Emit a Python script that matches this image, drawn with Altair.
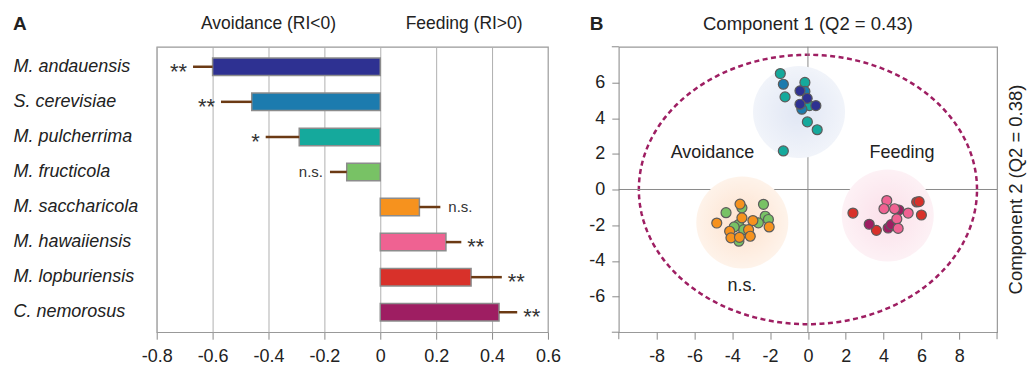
import altair as alt
import numpy as np
import pandas as pd

FONT = "Liberation Sans"

# ---------------- Panel A data ----------------
species = ["M. andauensis", "S. cerevisiae", "M. pulcherrima", "M. fructicola",
           "M. saccharicola", "M. hawaiiensis", "M. lopburiensis", "C. nemorosus"]
ri = [-0.60, -0.46, -0.29, -0.12, 0.14, 0.235, 0.325, 0.425]
ri_err_end = [-0.67, -0.57, -0.41, -0.18, 0.215, 0.29, 0.435, 0.49]
sig = ["**", "**", "*", "n.s.", "n.s.", "**", "**", "**"]
colors = ["#2E3192", "#1C7BAE", "#15A99C", "#78C265",
          "#F6921E", "#EF6292", "#D8312A", "#9E1E62"]
xA_ticks = [-0.8, -0.6, -0.4, -0.2, 0, 0.2, 0.4, 0.6]

# ---------------- Panel B data ----------------
pc1_andauensis = [-0.42, -0.04, -0.42, 0.42]
pc2_andauensis = [5.53, 5.11, 4.78, 4.70]
pc1_cerevisiae = [-1.30, -0.16, -0.32]
pc2_cerevisiae = [5.90, 5.50, 4.50]
pc1_pulcherrima = [-1.46, -1.21, -0.16, 0.08, -0.03, 0.49, -1.30]
pc2_pulcherrima = [6.50, 5.19, 6.00, 4.70, 3.79, 3.35, 2.16]
pc1_fructicola = [-4.33, -3.49, -2.35, -2.26, -2.09, -2.62, -3.67, -3.40, -3.65, -3.90]
pc2_fructicola = [-1.30, -1.03, -0.83, -1.50, -1.68, -1.87, -1.97, -2.25, -2.90, -2.10]
pc1_saccharicola = [-3.59, -4.82, -3.49, -2.91, -2.05, -3.14, -4.14, -4.07, -3.62, -3.05]
pc2_saccharicola = [-0.82, -1.88, -1.59, -1.74, -2.10, -2.25, -2.34, -2.71, -2.68, -2.62]
pc1_hawaiiensis = [4.17, 4.02, 4.58, 5.30, 4.70, 4.77]
pc2_hawaiiensis = [-0.62, -1.08, -1.08, -1.32, -1.65, -2.18]
pc1_lopburiensis = [2.38, 3.62, 5.75, 5.88, 6.00]
pc2_lopburiensis = [-1.32, -2.29, -0.70, -0.68, -1.43]
pc1_nemorosus = [3.24, 4.24, 4.81, 4.40]
pc2_nemorosus = [-1.95, -2.16, -1.15, -1.97]

bg_pc1 = [-0.47, -3.47, 4.22]
bg_pc2 = [4.35, -1.85, -1.46]
bg_cluster = ["top", "avoid", "feed"]

ellipse_rx = 8.94
ellipse_ry = 7.55

lab_pc1 = [-5.05, 4.97, -3.49]
lab_pc2 = [2.07, 2.07, -5.43]
lab_text = ["Avoidance", "Feeding", "n.s."]

xB_ticks = [-8, -6, -4, -2, 0, 2, 4, 6, 8]
yB_ticks = [-6, -4, -2, 0, 2, 4, 6]
xB_edge_ticks = [-10, 10]
yB_edge_ticks = [-8, 8]

# ---------------- build tables ----------------
dfA = pd.DataFrame({"species": species, "ri": ri, "err": ri_err_end, "sig": sig})

rows = []
for name, xs, ys in [
    ("M. pulcherrima", pc1_pulcherrima, pc2_pulcherrima),
    ("S. cerevisiae", pc1_cerevisiae, pc2_cerevisiae),
    ("M. andauensis", pc1_andauensis, pc2_andauensis),
    ("M. fructicola", pc1_fructicola, pc2_fructicola),
    ("M. saccharicola", pc1_saccharicola, pc2_saccharicola),
    ("M. lopburiensis", pc1_lopburiensis, pc2_lopburiensis),
    ("C. nemorosus", pc1_nemorosus, pc2_nemorosus),
    ("M. hawaiiensis", pc1_hawaiiensis, pc2_hawaiiensis),
]:
    for a, b in zip(xs, ys):
        rows.append({"pc1": a, "pc2": b, "species": name})
dfB = pd.DataFrame(rows)
dfB["o"] = range(len(dfB))

dfBG = pd.DataFrame({"pc1": bg_pc1, "pc2": bg_pc2, "cluster": bg_cluster})
tt = np.linspace(0, 2 * np.pi, 241)
dfE = pd.DataFrame({"pc1": ellipse_rx * np.cos(tt), "pc2": ellipse_ry * np.sin(tt),
                    "o": range(len(tt))})
dfL = pd.DataFrame({"pc1": lab_pc1, "pc2": lab_pc2, "t": lab_text})
dfXT = pd.DataFrame({"pc1": xB_edge_ticks})
dfYT = pd.DataFrame({"pc2": yB_edge_ticks})
one = pd.DataFrame({"k": [0]})

WA, HA = 392, 286
WB, HB = 379, 286
TOPY = -22.5
LABPAD = 144
MINUS = "\u2212"
AXC = "#8a8a8a"
TICK = 7
XLABPAD = 8

colA = alt.Color("species:N", scale=alt.Scale(domain=species, range=colors), legend=None)

# ---------------- Panel A ----------------
yA = alt.Y("species:N", sort=species,
           scale=alt.Scale(paddingInner=0.5, paddingOuter=0.32),
           axis=alt.Axis(title=None, labelAlign="left", labelPadding=LABPAD, ticks=False,
                         tickSize=0, domain=False, labelFontStyle="italic",
                         labelFontSize=18, labelColor="#222", labelFont=FONT,
                         labelBaseline="middle", grid=False))
yA2 = alt.Y("species:N", sort=species)
xA = alt.X("ri:Q", scale=alt.Scale(domain=[-0.8, 0.6], nice=False, zero=False),
           axis=alt.Axis(title=None, values=xA_ticks,
                         labelExpr=f"datum.value == 0 ? '0' : replace(format(datum.value, '.1f'), '{MINUS}', '-')",
                         grid=True, gridColor="#b0b0b0", gridWidth=1, tickSize=TICK,
                         tickColor=AXC, domain=False, labelFontSize=18, labelFlush=False,
                         labelOverlap=False, labelPadding=XLABPAD, labelColor="#222", labelFont=FONT))

baseA = alt.Chart(dfA)
bars = baseA.mark_bar(stroke="#8c8c8c", strokeWidth=1.5).encode(y=yA, x=xA, color=colA)
errs = baseA.mark_rule(color="#6B3A14", strokeWidth=2.5).encode(
    y=yA2, x=alt.X("ri:Q"), x2="err:Q")

def sig_layer(flt, align, dx, dy, size):
    return baseA.transform_filter(flt).mark_text(
        align=align, dx=dx, dy=dy, fontSize=size, font=FONT, color="#333",
        baseline="middle").encode(y=yA2, x=alt.X("err:Q"), text="sig:N")

s1 = sig_layer("datum.ri < 0 && datum.sig != 'n.s.'", "right", -6, 5, 22)
s2 = sig_layer("datum.ri < 0 && datum.sig == 'n.s.'", "right", -7, 0, 15)
s3 = sig_layer("datum.ri > 0 && datum.sig != 'n.s.'", "left", 6, 5, 22)
s4 = sig_layer("datum.ri > 0 && datum.sig == 'n.s.'", "left", 8, 0, 15)

tA1 = alt.Chart(one).mark_text(text="Avoidance (RI<0)", fontSize=17.5, font=FONT,
                               color="#222", baseline="middle").encode(
    x=alt.datum(-0.4), y=alt.value(TOPY))
tA2 = alt.Chart(one).mark_text(text="Feeding (RI>0)", fontSize=17.5, font=FONT,
                               color="#222", baseline="middle").encode(
    x=alt.datum(0.3), y=alt.value(TOPY))
tA = alt.Chart(one).mark_text(text="A", fontSize=19, font=FONT, fontWeight="bold",
                              color="#222", align="left", baseline="middle").encode(
    x=alt.value(-LABPAD), y=alt.value(TOPY))

panelA = alt.layer(bars, errs, s1, s2, s3, s4, tA1, tA2, tA).properties(width=WA, height=HA)

# ---------------- Panel B ----------------
xB = alt.X("pc1:Q", scale=alt.Scale(domain=[-10, 10], nice=False, zero=False),
           axis=alt.Axis(title=None, values=xB_ticks,
                         labelExpr=f"replace(datum.label, '{MINUS}', '-')",
                         grid=False, tickSize=TICK, tickColor=AXC, domain=False,
                         labelFlush=False, labelOverlap=False,
                         labelFontSize=18, labelPadding=XLABPAD, labelColor="#222", labelFont=FONT))
yB = alt.Y("pc2:Q", scale=alt.Scale(domain=[-8, 8], nice=False, zero=False),
           axis=alt.Axis(title=None, values=yB_ticks,
                         labelExpr=f"replace(datum.label, '{MINUS}', '-')",
                         grid=False, tickSize=TICK, tickColor=AXC, domain=False,
                         labelFlush=False, labelOverlap=False,
                         labelFontSize=18, labelPadding=7, labelColor="#222", labelFont=FONT))
xB2 = alt.X("pc1:Q")
yB2 = alt.Y("pc2:Q")

zx = alt.Chart(one).mark_rule(color=AXC, strokeWidth=1).encode(x=alt.datum(0))
zy = alt.Chart(one).mark_rule(color=AXC, strokeWidth=1).encode(y=alt.datum(0))

# end ticks at the frame corners (unlabelled in the original)
etx = alt.Chart(dfXT).mark_rule(color=AXC, strokeWidth=1).encode(
    x=xB2, y=alt.value(HB), y2=alt.value(HB + TICK))
ety = alt.Chart(dfYT).mark_rule(color=AXC, strokeWidth=1).encode(
    y=yB2, x=alt.value(-TICK), x2=alt.value(0))

def grad(c0, c1):
    return alt.RadialGradient(gradient="radial",
                              stops=[alt.GradientStop(offset=0, color=c0),
                                     alt.GradientStop(offset=1, color=c1)],
                              x1=0.5, y1=0.5, r1=0, x2=0.5, y2=0.5, r2=0.5)

def bg_layer(cl, c0, c1):
    return alt.Chart(dfBG).transform_filter(f"datum.cluster == '{cl}'").mark_point(
        shape="circle", filled=True, size=8500, strokeWidth=0, opacity=1,
        fill=grad(c0, c1)).encode(x=xB2, y=yB2)

bg1 = bg_layer("top", "#e0e6f4", "#f1f4fa")
bg2 = bg_layer("avoid", "#fde1cd", "#fef3ea")
bg3 = bg_layer("feed", "#fbdfe9", "#fdf1f5")

ell = alt.Chart(dfE).mark_line(color="#9E1E62", strokeWidth=2.5,
                               strokeDash=[5, 3.5]).encode(x=xB, y=yB, order="o:Q")

pts = alt.Chart(dfB).mark_point(shape="circle", filled=True, size=100, opacity=1,
                                stroke="#5c5c5c", strokeWidth=1.2).encode(
    x=xB2, y=yB2, fill=alt.Fill("species:N", scale=alt.Scale(domain=species, range=colors), legend=None),
    order="o:Q")

labs = alt.Chart(dfL).mark_text(fontSize=18, font=FONT, color="#222",
                                baseline="middle").encode(x=xB2, y=yB2, text="t:N")

tB = alt.Chart(one).mark_text(text="B", fontSize=19, font=FONT, fontWeight="bold",
                              color="#222", align="left", baseline="middle").encode(
    x=alt.value(-29), y=alt.value(TOPY))
tB1 = alt.Chart(one).mark_text(text="Component 1 (Q2 = 0.43)", fontSize=18.5, font=FONT,
                               color="#222", baseline="middle").encode(
    x=alt.value(WB / 2), y=alt.value(TOPY))
tB2 = alt.Chart(one).mark_text(text="Component 2 (Q2 = 0.38)", fontSize=18.5, font=FONT,
                               color="#222", baseline="middle", angle=270).encode(
    x=alt.value(WB + 19), y=alt.value(HB / 2))

panelB = alt.layer(ell, zx, zy, etx, ety, bg1, bg2, bg3, pts, labs, tB, tB1, tB2).properties(
    width=WB, height=HB)

chart = alt.hconcat(panelA, panelB, spacing=71, bounds="flush").resolve_scale(
    fill="independent", color="independent"
).properties(
    padding={"left": 4, "top": 5.5, "right": 0, "bottom": 0}
).configure(font=FONT, background="white").configure_view(
    stroke="#999", strokeWidth=1.2
).configure_axis(labelOverlap=False)

chart.save("out.html", embed_options={"renderer": "svg", "actions": False})
